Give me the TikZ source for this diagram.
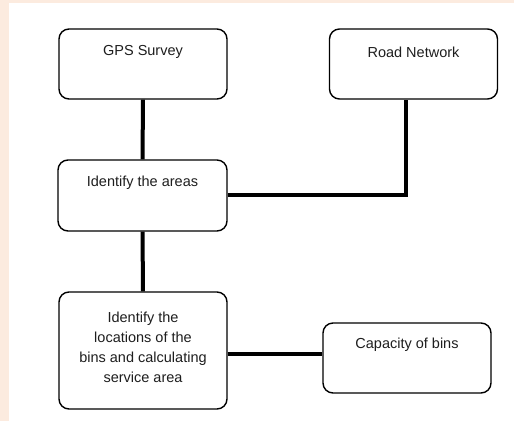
\documentclass[tikz,border=0pt]{standalone}
\usepackage{fontspec}
\setmainfont{Liberation Sans}
\definecolor{peach}{RGB}{252,235,223}
\definecolor{txt}{RGB}{30,30,30}
\begin{document}
\begin{tikzpicture}[x=1pt,y=-1pt,
  box/.style={draw=black, line width=1.4pt, rounded corners=10pt, fill=white, inner sep=0pt},
  lbl/.style={font=\fontsize{14.5}{20}\selectfont, text=txt, align=center, inner sep=0pt},
  conn/.style={line width=4pt, line cap=butt}]
\useasboundingbox (0,0) rectangle (514,421);
\fill[peach] (0,0) rectangle (514,421);
\fill[white] (9,3) rectangle (514,421);
% boxes
\node[box, minimum width=168pt, minimum height=70pt] (gps) at (143,64) {};
\node[box, minimum width=168pt, minimum height=70pt] (road) at (413.5,64) {};
\node[box, minimum width=169pt, minimum height=71pt] (areas) at (142.5,195.5) {};
\node[box, minimum width=168pt, minimum height=117pt] (loc) at (143,350.5) {};
\node[box, minimum width=168pt, minimum height=70pt] (cap) at (407,358) {};
% texts
\node[lbl] (tgps) at (143,52) {GPS Survey};
\node[lbl] (troad) at (413.5,52) {Road Network};
\node[lbl] (tareas) at (142.5,183) {Identify the areas};
\node[lbl] (tloc) at (143,347.5) {Identify the\\locations of the\\bins and calculating\\service area};
\node[lbl] (tcap) at (407,345) {Capacity of bins};
% connectors
\coordinate (bend) at (406,195);
\draw[conn] (gps.south) -- (areas.north);
\draw[conn] (areas.east |- bend) -- (bend) -- (bend |- road.south);
\draw[conn] (areas.south) -- (loc.north);
\draw[conn] (loc.east |- 0,354) -- (cap.west |- 0,354);
\end{tikzpicture}
\end{document}
